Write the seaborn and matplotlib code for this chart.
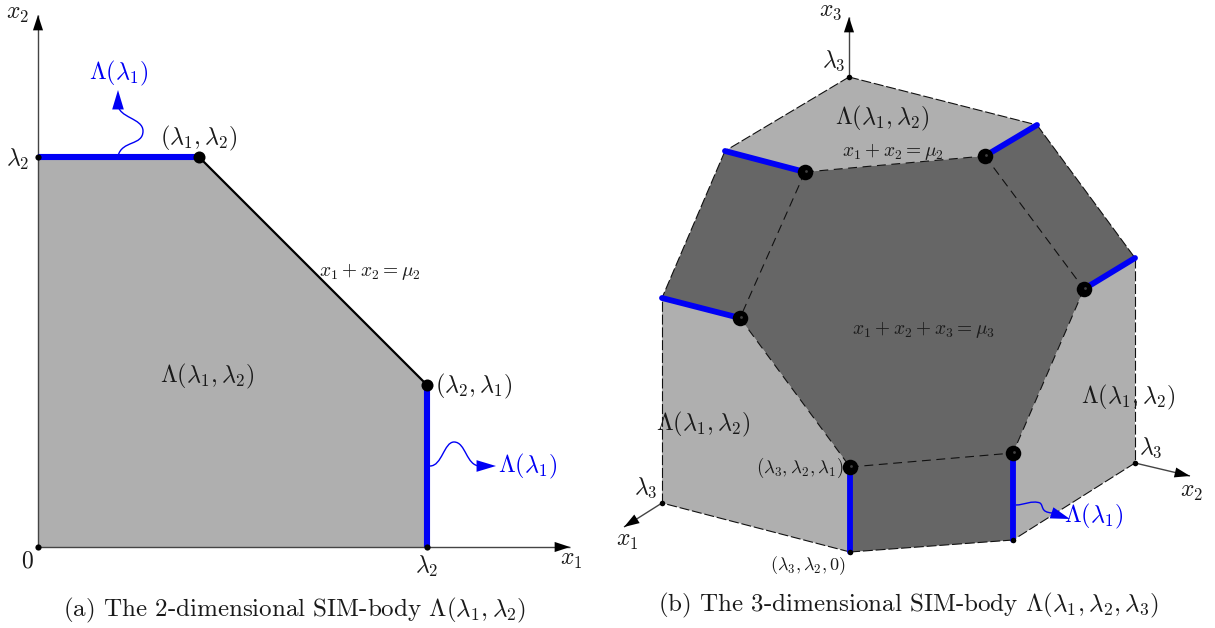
import matplotlib
matplotlib.use("Agg")
import matplotlib.pyplot as plt
from matplotlib.path import Path
from matplotlib.patches import PathPatch, FancyArrowPatch
import pandas as pd
import seaborn as sns

sns.set_theme(style="white")
plt.rcParams["mathtext.fontset"] = "cm"

LIGHT = "#afafaf"
DARK = "#666666"
BLUE = "#0000f5"
TXT = "#1a1a1a"

# ---- left panel (pixel-space diagram coordinates) ----
left_x = [38, 38, 199, 427, 427]
left_y = [547, 157, 157, 385, 547]
left_top_x = [38, 199]
left_top_y = [157, 157]
left_right_x = [427, 427]
left_right_y = [385, 547]
left_diag_x = [199, 427]
left_diag_y = [157, 385]
left_big_x = [199, 427]
left_big_y = [157, 385]
left_small_x = [38, 38, 427]
left_small_y = [157, 547, 547]
left_axes = [((38, 547), (570, 547)), ((38, 547), (38, 15))]

# ---- right panel ----
top_x = [849, 1037, 985, 805, 725]
top_y = [77, 125, 156, 172, 151]
dark_x = [725, 805, 985, 1037, 1135, 1084, 1013, 1013, 850, 850, 740, 662]
dark_y = [151, 172, 156, 125, 258, 289, 453, 540, 552, 467, 318, 298]
lft_x = [662, 740, 850, 850, 662]
lft_y = [298, 318, 467, 552, 503]
rgt_x = [1135, 1084, 1013, 1013, 1135]
rgt_y = [258, 289, 453, 540, 463]
inner_edges = [
    ((805, 172), (740, 318)), ((985, 156), (1084, 289)), ((850, 467), (1013, 453)),
    ((805, 172), (985, 156)), ((740, 318), (850, 467)), ((1084, 289), (1013, 453)),
]
outer_edges = [
    ((849, 77), (1037, 125)), ((849, 77), (725, 151)), ((725, 151), (662, 298)),
    ((1037, 125), (1135, 258)), ((1135, 258), (1135, 463)), ((1135, 463), (1013, 540)),
    ((1013, 540), (850, 552)), ((850, 552), (662, 503)), ((662, 503), (662, 298)),
]
blue_edges = [
    ((725, 151), (805, 172)), ((985, 156), (1037, 125)), ((1084, 289), (1135, 258)),
    ((662, 298), (740, 318)), ((850, 467), (850, 552)), ((1013, 453), (1013, 540)),
]
sphere_x = [805, 985, 1084, 740, 850, 1013]
sphere_y = [172, 156, 289, 318, 467, 453]
corner_x = [849, 662, 1135, 850, 1013]
corner_y = [77, 503, 463, 552, 540]
right_axes = [((849, 77), (849, 17)), ((662, 503), (624, 527)), ((1135, 463), (1190, 476))]

# ---- wavy annotations ----
wave_up = [(118, 156), (122, 140), (143, 146), (143, 131), (143, 118), (118, 118), (118, 104)]
wave_right = [(430, 466), (442, 466), (444, 442), (454, 442), (466, 442), (466, 466), (480, 466)]
wave_3d = [(1016, 505), (1024, 505), (1032, 500), (1040, 503), (1044, 506), (1040, 512), (1052, 513)]
arrow_heads = [((118, 106), (118, 90)), ((478, 466), (496, 466)), ((1052, 513), (1070, 519))]

labels = [
    (17, 13, r"$x_2$", 17, TXT), (571, 559, r"$x_1$", 17, TXT), (18, 159, r"$\lambda_2$", 17, TXT),
    (27, 561, r"$0$", 17, TXT), (427, 566, r"$\lambda_2$", 17, TXT),
    (119, 73, r"$\Lambda(\lambda_1)$", 17.4, BLUE), (199, 138, r"$(\lambda_1,\lambda_2)$", 17.4, TXT),
    (474, 386, r"$(\lambda_2,\lambda_1)$", 17.4, TXT), (528, 466, r"$\Lambda(\lambda_1)$", 17.4, BLUE),
    (207, 376, r"$\Lambda(\lambda_1,\lambda_2)$", 17.4, TXT),
    (370, 272, r"$x_1+x_2=\mu_2$", 14, TXT),
    (831, 10, r"$x_3$", 17, TXT), (834, 61, r"$\lambda_3$", 17, TXT),
    (882, 118, r"$\Lambda(\lambda_1,\lambda_2)$", 17.4, TXT),
    (893, 151, r"$x_1+x_2=\mu_2$", 14, TXT), (924, 330, r"$x_1+x_2+x_3=\mu_3$", 14, TXT),
    (1128, 397, r"$\Lambda(\lambda_1,\lambda_2)$", 17.4, TXT), (703, 424, r"$\Lambda(\lambda_1,\lambda_2)$", 17.4, TXT),
    (1151, 448, r"$\lambda_3$", 17, TXT), (1191, 491, r"$x_2$", 17, TXT),
    (646, 488, r"$\lambda_3$", 17, TXT), (627, 540, r"$x_1$", 17, TXT),
    (800, 468, r"$(\lambda_3,\lambda_2,\lambda_1)$", 13.5, TXT),
    (808, 566, r"$(\lambda_3,\lambda_2,0)$", 13, TXT),
    (1094, 516, r"$\Lambda(\lambda_1)$", 17.4, BLUE),
]
captions = [
    (295, 610, r"(a) The 2-dimensional SIM-body $\Lambda(\lambda_1,\lambda_2)$"),
    (908, 605, r"(b) The 3-dimensional SIM-body $\Lambda(\lambda_1,\lambda_2,\lambda_3)$"),
]

fig = plt.figure(figsize=(12.15, 6.28), dpi=100)
ax = fig.add_axes([0, 0, 1, 1])


def seg(xs, ys, color, lw, dashes=None, z=3, cap="butt"):
    df = pd.DataFrame({"x": xs, "y": ys})
    sns.lineplot(data=df, x="x", y="y", sort=False, estimator=None, color=color, linewidth=lw,
                 ax=ax, zorder=z, solid_capstyle=cap, **({"linestyle": dashes} if dashes else {}))


def dots(xs, ys, size, color="black", z=6):
    sns.scatterplot(x=xs, y=ys, s=size, color=color, linewidth=0, ax=ax, zorder=z, legend=False)


def axis_arrow(a, b):
    seg([a[0], b[0]], [a[1], b[1]], "#444444", 1.0, z=2)
    length = ((b[0] - a[0]) ** 2 + (b[1] - a[1]) ** 2) ** 0.5
    start = (b[0] - (b[0] - a[0]) * 16 / length, b[1] - (b[1] - a[1]) * 16 / length)
    ax.add_patch(FancyArrowPatch(start, b, arrowstyle="-|>,head_length=0.85,head_width=0.28", mutation_scale=13,
                                 shrinkA=0, shrinkB=0, color="black", lw=0, zorder=4))


# left
ax.fill(left_x, left_y, color=LIGHT, lw=0, zorder=1)
for a, b in left_axes:
    axis_arrow(a, b)
seg(left_diag_x, left_diag_y, "black", 1.6)
seg(left_top_x, left_top_y, BLUE, 4.4, z=4)
seg(left_right_x, left_right_y, BLUE, 4.4, z=4)
dots(left_big_x, left_big_y, 75)
dots(left_small_x, left_small_y, 20)

# right
ax.fill(top_x, top_y, color=LIGHT, lw=0, zorder=1)
ax.fill(lft_x, lft_y, color=LIGHT, lw=0, zorder=1)
ax.fill(rgt_x, rgt_y, color=LIGHT, lw=0, zorder=1)
ax.fill(dark_x, dark_y, color=DARK, lw=0, zorder=1)
for a, b in right_axes:
    axis_arrow(a, b)
for a, b in inner_edges:
    seg([a[0], b[0]], [a[1], b[1]], "#111111", 0.8, dashes=(0, (8, 5)))
for a, b in outer_edges:
    seg([a[0], b[0]], [a[1], b[1]], "#111111", 0.8, dashes=(0, (9, 2.5)))
for a, b in blue_edges:
    seg([a[0], b[0]], [a[1], b[1]], BLUE, 4.2, z=4, cap="round")
dots(sphere_x, sphere_y, 125)
dots([x + 0.5 for x in sphere_x], [y - 1.5 for y in sphere_y], 4, color="#404040", z=7)
dots(corner_x, corner_y, 16)

# wavy arrows
codes = [Path.MOVETO] + [Path.CURVE4] * 6
for w in (wave_up, wave_right, wave_3d):
    ax.add_patch(PathPatch(Path(w, codes), fc="none", ec=BLUE, lw=1.0, zorder=5))
for a, b in arrow_heads:
    ax.add_patch(FancyArrowPatch(a, b, arrowstyle="-|>,head_length=1.0,head_width=0.3", mutation_scale=14,
                                 shrinkA=0, shrinkB=0, color=BLUE, lw=0, zorder=5))

for x, y, s, fs, c in labels:
    ax.text(x, y, s, fontsize=fs, color=c, ha="center", va="center", zorder=8)
for x, y, s in captions:
    ax.text(x, y, s, fontsize=18, family="cmr10", color=TXT, ha="center", va="center")

ax.set_xlim(0, 1215)
ax.set_ylim(628, 0)
ax.axis("off")
fig.savefig("out.png", dpi=100)
